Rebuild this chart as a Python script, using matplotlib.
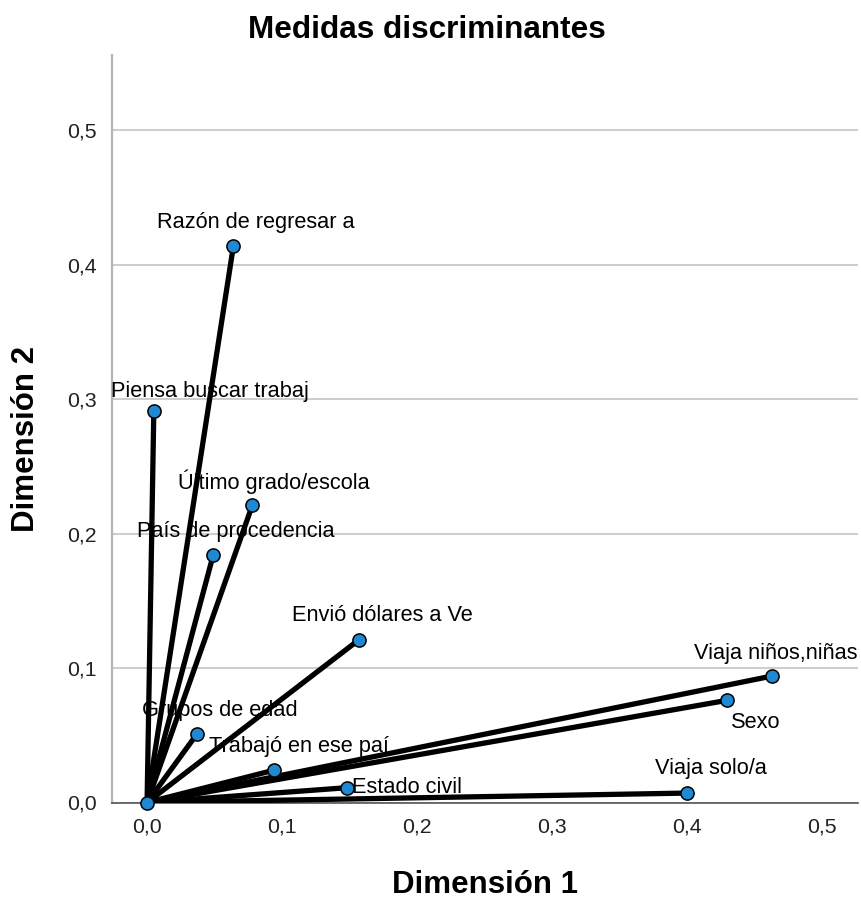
import matplotlib
matplotlib.use("Agg")
import matplotlib.pyplot as plt
from matplotlib.ticker import FuncFormatter, MultipleLocator

# discrimination measures per variable
variables = ["Razón de regresar a", "Piensa buscar trabaj", "Último grado/escola",
             "País de procedencia", "Envió dólares a Ve", "Viaja niños,niñas",
             "Sexo", "Grupos de edad", "Trabajó en ese paí", "Estado civil",
             "Viaja solo/a"]
dim1 = [0.064, 0.005, 0.078, 0.049, 0.157, 0.463, 0.430, 0.037, 0.094, 0.148, 0.400]
dim2 = [0.414, 0.291, 0.221, 0.184, 0.121, 0.094, 0.076, 0.051, 0.024, 0.011, 0.007]

# label offsets in pixels (dx, dy, ha)
lbl_off = {
    "Razón de regresar a": (22, 23, "center"),
    "Piensa buscar trabaj": (56, 20, "center"),
    "Último grado/escola": (22, 24, "center"),
    "País de procedencia": (23, 24, "center"),
    "Envió dólares a Ve": (24, 24, "center"),
    "Viaja niños,niñas": (4, 23, "center"),
    "Sexo": (29, -22, "center"),
    "Grupos de edad": (23, 23, "center"),
    "Trabajó en ese paí": (25, 24, "center"),
    "Estado civil": (5, 0, "left"),
    "Viaja solo/a": (24, 25, "center"),
}

plt.rcParams['font.family'] = ['Liberation Sans', 'DejaVu Sans']

fig = plt.figure(figsize=(8.61, 9.0), dpi=100)
ax = fig.add_axes([112/861, 1-802.5/900, (858-112)/861, (802.5-55)/900])

for x, y in zip(dim1, dim2):
    ax.plot([0, x], [0, y], color="black", lw=3.8, solid_capstyle="round", zorder=3)
ax.scatter([0] + dim1, [0] + dim2, s=90, color="#1f8ad3", edgecolor="black",
           linewidth=1.1, zorder=4, clip_on=False)

for name, x, y in zip(variables, dim1, dim2):
    dx, dy, ha = lbl_off[name]
    ax.annotate(name, (x, y), xytext=(dx, dy), textcoords="offset pixels",
                ha=ha, va="center", fontsize=15.7, zorder=5)

ax.set_xlim(-0.026, 0.527)
ax.set_ylim(0, 0.556)
ax.xaxis.set_major_locator(MultipleLocator(0.1))
fmt = FuncFormatter(lambda v, p: ("%.1f" % v).replace(".", ","))
ax.xaxis.set_major_formatter(fmt)
ax.yaxis.set_major_formatter(fmt)
ax.set_yticks([0.0, 0.1, 0.2, 0.3, 0.4, 0.5])
ax.tick_params(length=0, labelsize=15.3, pad=11, colors="#222222")
ax.grid(axis="y", color="#c8c8c8", lw=1.3, zorder=0)
ax.set_axisbelow(True)

for s in ["top", "right"]:
    ax.spines[s].set_visible(False)
ax.spines["left"].set_color("#b4b4b4")
ax.spines["left"].set_linewidth(1.6)
ax.spines["bottom"].set_color("#555555")
ax.spines["bottom"].set_linewidth(1.2)

ax.set_xlabel("Dimensión 1", fontsize=22.5, fontweight="bold", va="center")
ax.set_ylabel("Dimensión 2", fontsize=22.5, fontweight="bold", va="center")
ax.yaxis.set_label_coords(-(112-26)/746, (802.5-439.5)/747.5)
ax.xaxis.set_label_coords(0.5, -(885-802.5)/747.5)

fig.text(427/861, 1-30/900, "Medidas discriminantes", ha="center", va="center",
         fontsize=22.7, fontweight="bold")

fig.savefig("out.png", dpi=100)
